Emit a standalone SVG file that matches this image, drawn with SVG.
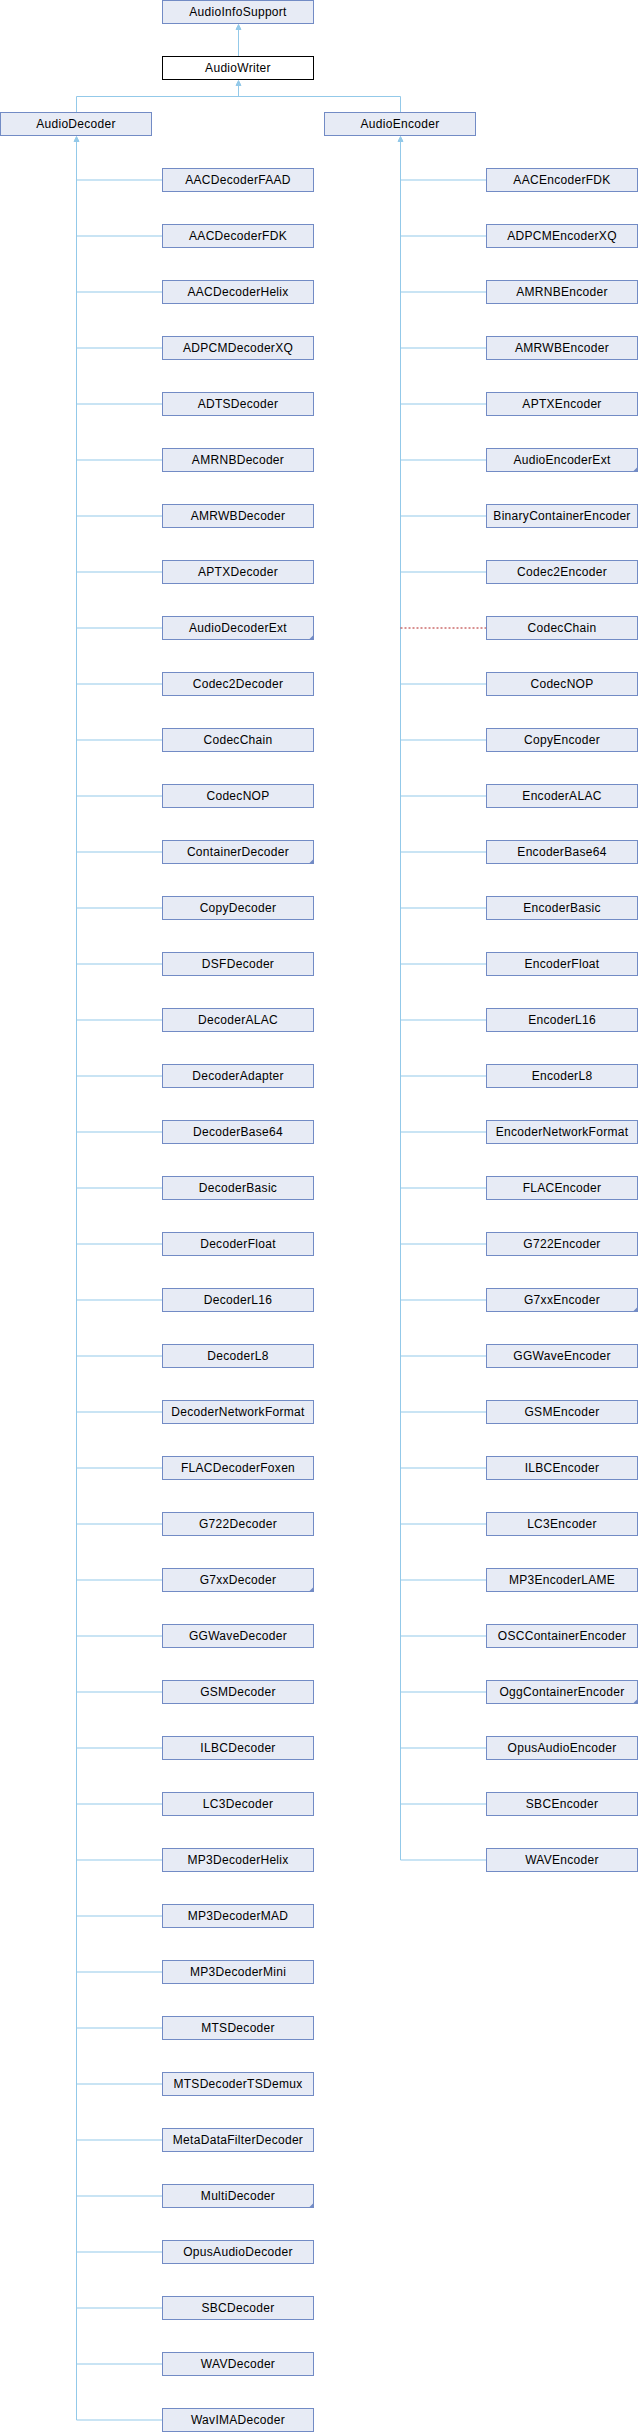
<svg xmlns="http://www.w3.org/2000/svg" width="638" height="2432" viewBox="0 0 638 2432">
<style>
rect.n{fill:#e7ebf5;stroke:#728bc5;stroke-width:1}
rect.w{fill:#ffffff;stroke:#000000;stroke-width:1}
text{font-family:"Liberation Sans",Arial,sans-serif;font-size:12px;letter-spacing:0.3px;text-anchor:middle;fill:#000}
.e{fill:none;stroke:#93c9e9;stroke-width:1}
.d{fill:none;stroke:#b22222;stroke-width:1;stroke-dasharray:2,2}
.a{fill:#93c9e9;stroke:#93c9e9;stroke-width:1}
.f{fill:#728bc5}
</style>
<g id="connectors">
<path class="e" d="M238.5 56.5V29M238.5 96.5V85M76.5 112.5V96.5H400.5V112.5"/>
<polygon class="a" points="238.5,24.5 236,29.5 241,29.5"/>
<polygon class="a" points="238.5,80.5 236,85.5 241,85.5"/>
<path class="e" d="M76.5 141V2420"/>
<polygon class="a" points="76.5,136.5 74,141.5 79,141.5"/>
<path class="e" d="M400.5 141V1860"/>
<polygon class="a" points="400.5,136.5 398,141.5 403,141.5"/>
<path class="e" d="M76.5 180H162.5M76.5 236H162.5M76.5 292H162.5M76.5 348H162.5M76.5 404H162.5M76.5 460H162.5M76.5 516H162.5M76.5 572H162.5M76.5 628H162.5M76.5 684H162.5M76.5 740H162.5M76.5 796H162.5M76.5 852H162.5M76.5 908H162.5M76.5 964H162.5M76.5 1020H162.5M76.5 1076H162.5M76.5 1132H162.5M76.5 1188H162.5M76.5 1244H162.5M76.5 1300H162.5M76.5 1356H162.5M76.5 1412H162.5M76.5 1468H162.5M76.5 1524H162.5M76.5 1580H162.5M76.5 1636H162.5M76.5 1692H162.5M76.5 1748H162.5M76.5 1804H162.5M76.5 1860H162.5M76.5 1916H162.5M76.5 1972H162.5M76.5 2028H162.5M76.5 2084H162.5M76.5 2140H162.5M76.5 2196H162.5M76.5 2252H162.5M76.5 2308H162.5M76.5 2364H162.5M76.5 2420H162.5"/>
<path class="e" d="M400.5 180H486.5M400.5 236H486.5M400.5 292H486.5M400.5 348H486.5M400.5 404H486.5M400.5 460H486.5M400.5 516H486.5M400.5 572H486.5M400.5 684H486.5M400.5 740H486.5M400.5 796H486.5M400.5 852H486.5M400.5 908H486.5M400.5 964H486.5M400.5 1020H486.5M400.5 1076H486.5M400.5 1132H486.5M400.5 1188H486.5M400.5 1244H486.5M400.5 1300H486.5M400.5 1356H486.5M400.5 1412H486.5M400.5 1468H486.5M400.5 1524H486.5M400.5 1580H486.5M400.5 1636H486.5M400.5 1692H486.5M400.5 1748H486.5M400.5 1804H486.5M400.5 1860H486.5"/>
<path class="d" d="M400.5 628H486.5"/>
</g>
<g id="AudioInfoSupport"><rect class="n" x="162.5" y="0.5" width="151" height="23"/><text x="238" y="16">AudioInfoSupport</text></g>
<g id="AudioWriter"><rect class="w" x="162.5" y="56.5" width="151" height="23"/><text x="238" y="72">AudioWriter</text></g>
<g id="AudioDecoder"><rect class="n" x="0.5" y="112.5" width="151" height="23"/><text x="76" y="128">AudioDecoder</text></g>
<g id="AudioEncoder"><rect class="n" x="324.5" y="112.5" width="151" height="23"/><text x="400" y="128">AudioEncoder</text></g>
<g id="AACDecoderFAAD"><rect class="n" x="162.5" y="168.5" width="151" height="23"/><text x="238" y="184">AACDecoderFAAD</text></g>
<g id="AACDecoderFDK"><rect class="n" x="162.5" y="224.5" width="151" height="23"/><text x="238" y="240">AACDecoderFDK</text></g>
<g id="AACDecoderHelix"><rect class="n" x="162.5" y="280.5" width="151" height="23"/><text x="238" y="296">AACDecoderHelix</text></g>
<g id="ADPCMDecoderXQ"><rect class="n" x="162.5" y="336.5" width="151" height="23"/><text x="238" y="352">ADPCMDecoderXQ</text></g>
<g id="ADTSDecoder"><rect class="n" x="162.5" y="392.5" width="151" height="23"/><text x="238" y="408">ADTSDecoder</text></g>
<g id="AMRNBDecoder"><rect class="n" x="162.5" y="448.5" width="151" height="23"/><text x="238" y="464">AMRNBDecoder</text></g>
<g id="AMRWBDecoder"><rect class="n" x="162.5" y="504.5" width="151" height="23"/><text x="238" y="520">AMRWBDecoder</text></g>
<g id="APTXDecoder"><rect class="n" x="162.5" y="560.5" width="151" height="23"/><text x="238" y="576">APTXDecoder</text></g>
<g id="AudioDecoderExt"><rect class="n" x="162.5" y="616.5" width="151" height="23"/><polygon class="f" points="314,634.5 314,640 308.5,640"/><text x="238" y="632">AudioDecoderExt</text></g>
<g id="Codec2Decoder"><rect class="n" x="162.5" y="672.5" width="151" height="23"/><text x="238" y="688">Codec2Decoder</text></g>
<g id="CodecChain-dec"><rect class="n" x="162.5" y="728.5" width="151" height="23"/><text x="238" y="744">CodecChain</text></g>
<g id="CodecNOP-dec"><rect class="n" x="162.5" y="784.5" width="151" height="23"/><text x="238" y="800">CodecNOP</text></g>
<g id="ContainerDecoder"><rect class="n" x="162.5" y="840.5" width="151" height="23"/><polygon class="f" points="314,858.5 314,864 308.5,864"/><text x="238" y="856">ContainerDecoder</text></g>
<g id="CopyDecoder"><rect class="n" x="162.5" y="896.5" width="151" height="23"/><text x="238" y="912">CopyDecoder</text></g>
<g id="DSFDecoder"><rect class="n" x="162.5" y="952.5" width="151" height="23"/><text x="238" y="968">DSFDecoder</text></g>
<g id="DecoderALAC"><rect class="n" x="162.5" y="1008.5" width="151" height="23"/><text x="238" y="1024">DecoderALAC</text></g>
<g id="DecoderAdapter"><rect class="n" x="162.5" y="1064.5" width="151" height="23"/><text x="238" y="1080">DecoderAdapter</text></g>
<g id="DecoderBase64"><rect class="n" x="162.5" y="1120.5" width="151" height="23"/><text x="238" y="1136">DecoderBase64</text></g>
<g id="DecoderBasic"><rect class="n" x="162.5" y="1176.5" width="151" height="23"/><text x="238" y="1192">DecoderBasic</text></g>
<g id="DecoderFloat"><rect class="n" x="162.5" y="1232.5" width="151" height="23"/><text x="238" y="1248">DecoderFloat</text></g>
<g id="DecoderL16"><rect class="n" x="162.5" y="1288.5" width="151" height="23"/><text x="238" y="1304">DecoderL16</text></g>
<g id="DecoderL8"><rect class="n" x="162.5" y="1344.5" width="151" height="23"/><text x="238" y="1360">DecoderL8</text></g>
<g id="DecoderNetworkFormat"><rect class="n" x="162.5" y="1400.5" width="151" height="23"/><text x="238" y="1416">DecoderNetworkFormat</text></g>
<g id="FLACDecoderFoxen"><rect class="n" x="162.5" y="1456.5" width="151" height="23"/><text x="238" y="1472">FLACDecoderFoxen</text></g>
<g id="G722Decoder"><rect class="n" x="162.5" y="1512.5" width="151" height="23"/><text x="238" y="1528">G722Decoder</text></g>
<g id="G7xxDecoder"><rect class="n" x="162.5" y="1568.5" width="151" height="23"/><polygon class="f" points="314,1586.5 314,1592 308.5,1592"/><text x="238" y="1584">G7xxDecoder</text></g>
<g id="GGWaveDecoder"><rect class="n" x="162.5" y="1624.5" width="151" height="23"/><text x="238" y="1640">GGWaveDecoder</text></g>
<g id="GSMDecoder"><rect class="n" x="162.5" y="1680.5" width="151" height="23"/><text x="238" y="1696">GSMDecoder</text></g>
<g id="ILBCDecoder"><rect class="n" x="162.5" y="1736.5" width="151" height="23"/><text x="238" y="1752">ILBCDecoder</text></g>
<g id="LC3Decoder"><rect class="n" x="162.5" y="1792.5" width="151" height="23"/><text x="238" y="1808">LC3Decoder</text></g>
<g id="MP3DecoderHelix"><rect class="n" x="162.5" y="1848.5" width="151" height="23"/><text x="238" y="1864">MP3DecoderHelix</text></g>
<g id="MP3DecoderMAD"><rect class="n" x="162.5" y="1904.5" width="151" height="23"/><text x="238" y="1920">MP3DecoderMAD</text></g>
<g id="MP3DecoderMini"><rect class="n" x="162.5" y="1960.5" width="151" height="23"/><text x="238" y="1976">MP3DecoderMini</text></g>
<g id="MTSDecoder"><rect class="n" x="162.5" y="2016.5" width="151" height="23"/><text x="238" y="2032">MTSDecoder</text></g>
<g id="MTSDecoderTSDemux"><rect class="n" x="162.5" y="2072.5" width="151" height="23"/><text x="238" y="2088">MTSDecoderTSDemux</text></g>
<g id="MetaDataFilterDecoder"><rect class="n" x="162.5" y="2128.5" width="151" height="23"/><text x="238" y="2144">MetaDataFilterDecoder</text></g>
<g id="MultiDecoder"><rect class="n" x="162.5" y="2184.5" width="151" height="23"/><polygon class="f" points="314,2202.5 314,2208 308.5,2208"/><text x="238" y="2200">MultiDecoder</text></g>
<g id="OpusAudioDecoder"><rect class="n" x="162.5" y="2240.5" width="151" height="23"/><text x="238" y="2256">OpusAudioDecoder</text></g>
<g id="SBCDecoder"><rect class="n" x="162.5" y="2296.5" width="151" height="23"/><text x="238" y="2312">SBCDecoder</text></g>
<g id="WAVDecoder"><rect class="n" x="162.5" y="2352.5" width="151" height="23"/><text x="238" y="2368">WAVDecoder</text></g>
<g id="WavIMADecoder"><rect class="n" x="162.5" y="2408.5" width="151" height="23"/><text x="238" y="2424">WavIMADecoder</text></g>
<g id="AACEncoderFDK"><rect class="n" x="486.5" y="168.5" width="151" height="23"/><text x="562" y="184">AACEncoderFDK</text></g>
<g id="ADPCMEncoderXQ"><rect class="n" x="486.5" y="224.5" width="151" height="23"/><text x="562" y="240">ADPCMEncoderXQ</text></g>
<g id="AMRNBEncoder"><rect class="n" x="486.5" y="280.5" width="151" height="23"/><text x="562" y="296">AMRNBEncoder</text></g>
<g id="AMRWBEncoder"><rect class="n" x="486.5" y="336.5" width="151" height="23"/><text x="562" y="352">AMRWBEncoder</text></g>
<g id="APTXEncoder"><rect class="n" x="486.5" y="392.5" width="151" height="23"/><text x="562" y="408">APTXEncoder</text></g>
<g id="AudioEncoderExt"><rect class="n" x="486.5" y="448.5" width="151" height="23"/><polygon class="f" points="638,466.5 638,472 632.5,472"/><text x="562" y="464">AudioEncoderExt</text></g>
<g id="BinaryContainerEncoder"><rect class="n" x="486.5" y="504.5" width="151" height="23"/><text x="562" y="520">BinaryContainerEncoder</text></g>
<g id="Codec2Encoder"><rect class="n" x="486.5" y="560.5" width="151" height="23"/><text x="562" y="576">Codec2Encoder</text></g>
<g id="CodecChain-enc"><rect class="n" x="486.5" y="616.5" width="151" height="23"/><text x="562" y="632">CodecChain</text></g>
<g id="CodecNOP-enc"><rect class="n" x="486.5" y="672.5" width="151" height="23"/><text x="562" y="688">CodecNOP</text></g>
<g id="CopyEncoder"><rect class="n" x="486.5" y="728.5" width="151" height="23"/><text x="562" y="744">CopyEncoder</text></g>
<g id="EncoderALAC"><rect class="n" x="486.5" y="784.5" width="151" height="23"/><text x="562" y="800">EncoderALAC</text></g>
<g id="EncoderBase64"><rect class="n" x="486.5" y="840.5" width="151" height="23"/><text x="562" y="856">EncoderBase64</text></g>
<g id="EncoderBasic"><rect class="n" x="486.5" y="896.5" width="151" height="23"/><text x="562" y="912">EncoderBasic</text></g>
<g id="EncoderFloat"><rect class="n" x="486.5" y="952.5" width="151" height="23"/><text x="562" y="968">EncoderFloat</text></g>
<g id="EncoderL16"><rect class="n" x="486.5" y="1008.5" width="151" height="23"/><text x="562" y="1024">EncoderL16</text></g>
<g id="EncoderL8"><rect class="n" x="486.5" y="1064.5" width="151" height="23"/><text x="562" y="1080">EncoderL8</text></g>
<g id="EncoderNetworkFormat"><rect class="n" x="486.5" y="1120.5" width="151" height="23"/><text x="562" y="1136">EncoderNetworkFormat</text></g>
<g id="FLACEncoder"><rect class="n" x="486.5" y="1176.5" width="151" height="23"/><text x="562" y="1192">FLACEncoder</text></g>
<g id="G722Encoder"><rect class="n" x="486.5" y="1232.5" width="151" height="23"/><text x="562" y="1248">G722Encoder</text></g>
<g id="G7xxEncoder"><rect class="n" x="486.5" y="1288.5" width="151" height="23"/><polygon class="f" points="638,1306.5 638,1312 632.5,1312"/><text x="562" y="1304">G7xxEncoder</text></g>
<g id="GGWaveEncoder"><rect class="n" x="486.5" y="1344.5" width="151" height="23"/><text x="562" y="1360">GGWaveEncoder</text></g>
<g id="GSMEncoder"><rect class="n" x="486.5" y="1400.5" width="151" height="23"/><text x="562" y="1416">GSMEncoder</text></g>
<g id="ILBCEncoder"><rect class="n" x="486.5" y="1456.5" width="151" height="23"/><text x="562" y="1472">ILBCEncoder</text></g>
<g id="LC3Encoder"><rect class="n" x="486.5" y="1512.5" width="151" height="23"/><text x="562" y="1528">LC3Encoder</text></g>
<g id="MP3EncoderLAME"><rect class="n" x="486.5" y="1568.5" width="151" height="23"/><text x="562" y="1584">MP3EncoderLAME</text></g>
<g id="OSCContainerEncoder"><rect class="n" x="486.5" y="1624.5" width="151" height="23"/><text x="562" y="1640">OSCContainerEncoder</text></g>
<g id="OggContainerEncoder"><rect class="n" x="486.5" y="1680.5" width="151" height="23"/><polygon class="f" points="638,1698.5 638,1704 632.5,1704"/><text x="562" y="1696">OggContainerEncoder</text></g>
<g id="OpusAudioEncoder"><rect class="n" x="486.5" y="1736.5" width="151" height="23"/><text x="562" y="1752">OpusAudioEncoder</text></g>
<g id="SBCEncoder"><rect class="n" x="486.5" y="1792.5" width="151" height="23"/><text x="562" y="1808">SBCEncoder</text></g>
<g id="WAVEncoder"><rect class="n" x="486.5" y="1848.5" width="151" height="23"/><text x="562" y="1864">WAVEncoder</text></g>
</svg>
